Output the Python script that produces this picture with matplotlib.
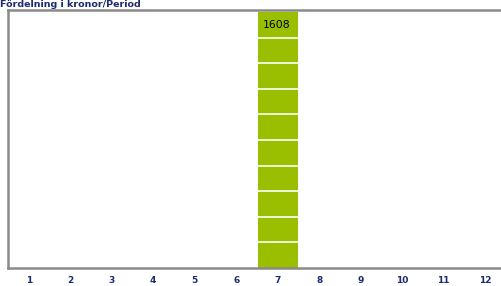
import matplotlib.pyplot as plt
import numpy as np

# Data
periods = [1, 2, 3, 4, 5, 6, 7, 8, 9, 10, 11, 12]
amounts = [0, 0, 0, 0, 0, 0, 1608, 0, 0, 0, 0, 0]
title = "Fördelning i kronor/Period"

W, H = 501, 286
fig = plt.figure(figsize=(W / 100, H / 100), dpi=100)
fig.patch.set_facecolor("white")

# axes placed in pixel terms (right edge runs off the figure like the original)
left, top, bottom, right = 8, 10, 268, 506
ax = fig.add_axes([left / W, (H - bottom) / H, (right - left) / W, (bottom - top) / H])

navy = "#1c2a6e"
bar_color = "#99bf00"

vals = np.array(amounts)
ax.bar(periods, vals, width=0.96, color=bar_color, zorder=2)

ymax = vals.max()
ax.set_xlim(0.5, 12.5)
ax.set_ylim(0, ymax * 258 / 256)

# white grid lines splitting the bar into ten blocks
step = ymax / 10
ax.set_yticks(np.arange(step, ymax, step))
ax.yaxis.grid(True, color="white", linewidth=1.4, alpha=0.85)
ax.set_axisbelow(False)
ax.tick_params(axis="y", left=False, labelleft=False)

ax.set_xticks(periods)
ax.set_xticklabels([str(p) for p in periods], fontsize=6.5, fontweight="bold", color=navy)
ax.tick_params(axis="x", length=0, pad=6)

for spine in ["left", "bottom", "top"]:
    ax.spines[spine].set_color("#8a8a8a")
    ax.spines[spine].set_linewidth(1.8)
    ax.spines[spine].set_zorder(5)
ax.spines["right"].set_visible(False)

for p, v in zip(periods, amounts):
    if v > 0:
        ax.text(p - 0.03, v - step * 0.5, str(v), ha="center", va="center",
                fontsize=7.8, color="black", zorder=4)

fig.text(0 / W, 1 - 7 / H, title, ha="left", va="baseline",
         fontsize=6.8, fontweight="bold", color=navy)

fig.savefig("out.png", dpi=100, facecolor="white")
